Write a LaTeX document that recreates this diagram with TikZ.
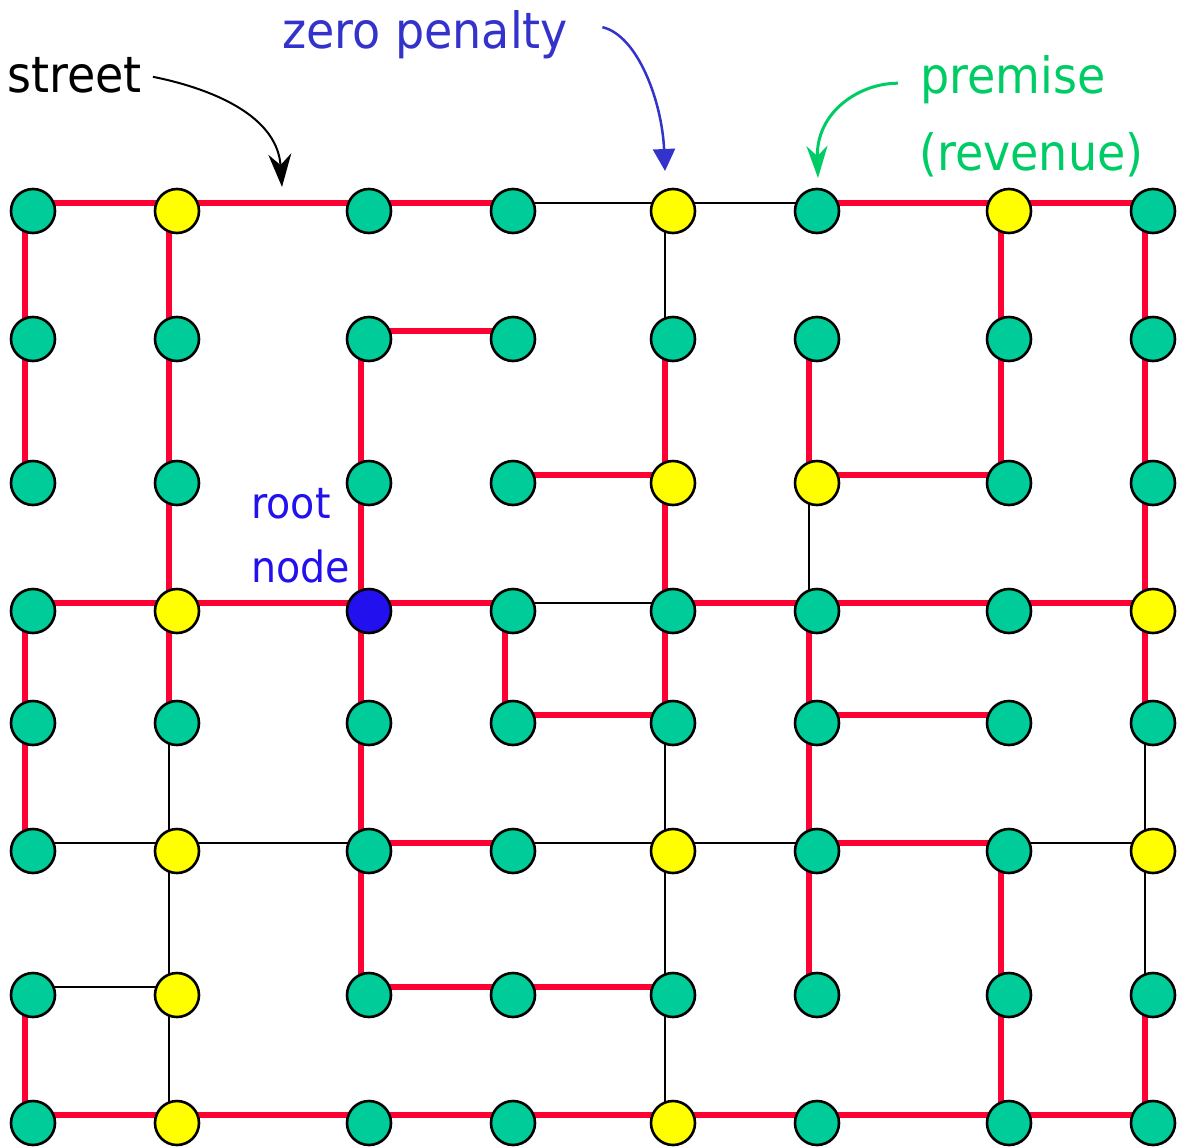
\documentclass[tikz,border=0pt]{standalone}
\usepackage{fontspec}
\setmainfont{DejaVu Sans}[FakeStretch=0.92]
\usetikzlibrary{arrows.meta}
\pgfdeclarelayer{background}
\pgfsetlayers{background,main}
\definecolor{nodegreen}{RGB}{0,204,153}
\definecolor{nodeyellow}{RGB}{255,255,0}
\definecolor{rootblue}{RGB}{34,17,238}
\definecolor{streetred}{RGB}{255,0,51}
\definecolor{penaltyblue}{RGB}{51,51,204}
\definecolor{premisegreen}{RGB}{0,204,102}
\begin{document}
\begin{tikzpicture}[x=1pt,y=-1pt,
  vtx/.style={circle,draw=black,line width=2.6pt,minimum size=44pt,inner sep=0pt},
  gv/.style={fill=nodegreen},
  yv/.style={fill=nodeyellow},
  bv/.style={fill=rootblue},
  redst/.style={draw=streetred,line width=6.5pt},
  blkst/.style={draw=black,line width=2pt},
  biglbl/.style={inner sep=0pt,anchor=base west,font=\fontsize{50pt}{60pt}\selectfont},
  smalllbl/.style={inner sep=0pt,anchor=base west,font=\fontsize{43pt}{50pt}\selectfont,text=rootblue}
]
\useasboundingbox (0,0) rectangle (1185,1146);

% vertices
\foreach \r/\yy/\cols in {
  0/211/{gv,yv,gv,gv,yv,gv,yv,gv},
  1/339/{gv,gv,gv,gv,gv,gv,gv,gv},
  2/483/{gv,gv,gv,gv,yv,yv,gv,gv},
  3/611/{gv,yv,bv,gv,gv,gv,gv,yv},
  4/723/{gv,gv,gv,gv,gv,gv,gv,gv},
  5/851/{gv,yv,gv,gv,yv,gv,gv,yv},
  6/995/{gv,yv,gv,gv,gv,gv,gv,gv},
  7/1123/{gv,yv,gv,gv,yv,gv,gv,gv}} {
  \foreach \col [count=\ci from 0] in \cols {
    \pgfmathsetmacro\xx{{33,177,369,513,673,817,1009,1153}[\ci]}
    \node[vtx,\col] (n\ci\r) at (\xx,\yy) {};
  }
}

% streets
\begin{pgfonlayer}{background}
\foreach \a/\b in {00/10,10/20,20/30,50/60,60/70,
  00/01,10/11,60/61,70/71,
  21/31,
  01/02,11/12,21/22,41/42,51/52,61/62,71/72,
  32/42,52/62,
  12/13,22/23,42/43,72/73,
  03/13,13/23,23/33,43/53,53/63,63/73,
  03/04,13/14,23/24,33/34,43/44,53/54,73/74,
  34/44,54/64,
  04/05,24/25,54/55,
  25/35,55/65,
  25/26,55/56,65/66,
  26/36,36/46,
  06/07,66/67,76/77,
  07/17,17/27,27/37,37/47,47/57,57/67,67/77}
  \draw[redst] ([shift={(-8,-8)}]n\a.center) -- ([shift={(-8,-8)}]n\b.center);
\foreach \a/\b in {30/40,40/50,40/41,52/53,33/43,14/15,44/45,74/75,
  05/15,15/25,35/45,45/55,65/75,15/16,45/46,75/76,06/16,16/17,46/47}
  \draw[blkst] ([shift={(-8,-8)}]n\a.center) -- ([shift={(-8,-8)}]n\b.center);
\end{pgfonlayer}

% labels
\node[biglbl,text=black] (streetlbl) at (7,92) {street};
\node[biglbl,text=penaltyblue] (zplbl) at (282,48) {zero penalty};
\node[biglbl,text=premisegreen] (premlbl) at (920,93) {premise};
\node[biglbl,text=premisegreen] (revlbl) at (919,170) {(revenue)};
\node[smalllbl] (rootlbl) at (251,518) {root};
\node[smalllbl] (nodelbl) at (251,582) {node};

% arrows
\draw[line width=2pt,-{Stealth[length=33pt,width=23pt,inset=11pt]}]
  ([shift={(11,2)}]streetlbl.east) .. controls +(50,10) and +(-5,-75) .. ([shift={(105,-24)}]n10.center);
\draw[line width=2.5pt,draw=penaltyblue,-{Triangle[length=22pt,width=22pt]}]
  ([shift={(34,-7)}]zplbl.east) .. controls +(35,8) and +(-3,-70) .. ([shift={(-8,-40)}]n40.center);
\draw[line width=3pt,draw=premisegreen,-{Stealth[length=32pt,width=21pt,inset=10pt]}]
  ([shift={(-22,4)}]premlbl.west) .. controls +(-40,0) and +(-2,-65) .. ([shift={(1,-33)}]n50.center);
\end{tikzpicture}
\end{document}
